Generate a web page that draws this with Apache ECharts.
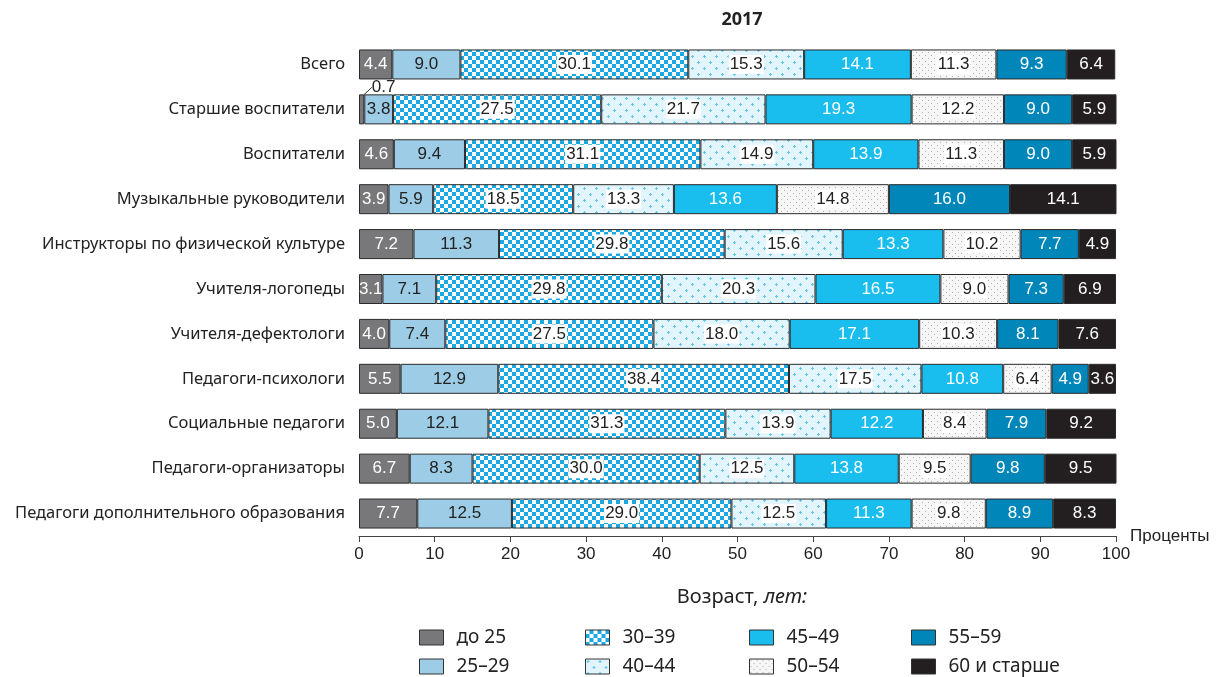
<!DOCTYPE html>
<html>
<head>
<meta charset="utf-8">
<script src="https://cdn.jsdelivr.net/npm/echarts@6/dist/echarts.min.js"></script>
<style>
  html, body { margin: 0; padding: 0; background: #fff; }
  #chart { width: 1216px; height: 677px; }
</style>
</head>
<body>
<div id="chart"></div>
<script>
let categories = ['Всего', 'Старшие воспитатели', 'Воспитатели', 'Музыкальные руководители',
    'Инструкторы по физической культуре', 'Учителя-логопеды', 'Учителя-дефектологи',
    'Педагоги-психологи', 'Социальные педагоги', 'Педагоги-организаторы',
    'Педагоги дополнительного образования'];
let ageNames = ['до 25', '25–29', '30–39', '40–44', '45–49', '50–54', '55–59', '60 и старше'];
let under25 = [4.4, 0.7, 4.6, 3.9, 7.2, 3.1, 4.0, 5.5, 5.0, 6.7, 7.7];
let age25_29 = [9.0, 3.8, 9.4, 5.9, 11.3, 7.1, 7.4, 12.9, 12.1, 8.3, 12.5];
let age30_39 = [30.1, 27.5, 31.1, 18.5, 29.8, 29.8, 27.5, 38.4, 31.3, 30.0, 29.0];
let age40_44 = [15.3, 21.7, 14.9, 13.3, 15.6, 20.3, 18.0, 17.5, 13.9, 12.5, 12.5];
let age45_49 = [14.1, 19.3, 13.9, 13.6, 13.3, 16.5, 17.1, 10.8, 12.2, 13.8, 11.3];
let age50_54 = [11.3, 12.2, 11.3, 14.8, 10.2, 9.0, 10.3, 6.4, 8.4, 9.5, 9.8];
let age55_59 = [9.3, 9.0, 9.0, 16.0, 7.7, 7.3, 8.1, 4.9, 7.9, 9.8, 8.9];
let over60 = [6.4, 5.9, 5.9, 14.1, 4.9, 6.9, 7.6, 3.6, 9.2, 9.5, 8.3];
let xTicks = [0, 10, 20, 30, 40, 50, 60, 70, 80, 90, 100];

let numFont = '"Liberation Sans Narrow", "Liberation Sans", sans-serif';
let textFont = '"Noto Sans", "DejaVu Sans", sans-serif';

// patterns
function makeCanvas(w, h, draw) {
    let c = document.createElement('canvas');
    c.width = w; c.height = h;
    draw(c.getContext('2d'));
    return c;
}
let checker = makeCanvas(8, 8, function (ctx) {
    ctx.fillStyle = '#1aa9e2';
    ctx.fillRect(0, 0, 8, 8);
    ctx.fillStyle = '#ffffff';
    ctx.fillRect(0, 0, 4, 4);
    ctx.fillRect(4, 4, 4, 4);
});
let plusDots = makeCanvas(12, 12, function (ctx) {
    ctx.fillStyle = '#e2f4fc';
    ctx.fillRect(0, 0, 12, 12);
    ctx.fillStyle = '#62c6ee';
    [[2, 2], [8, 8]].forEach(function (p) {
        ctx.fillRect(p[0] - 1, p[1], 3, 1);
        ctx.fillRect(p[0], p[1] - 1, 1, 3);
    });
});
let grayDots = makeCanvas(6, 6, function (ctx) {
    ctx.fillStyle = '#f6f6f6';
    ctx.fillRect(0, 0, 6, 6);
    ctx.fillStyle = '#b0b0b0';
    ctx.fillRect(1, 1, 1, 1);
    ctx.fillRect(4, 4, 1, 1);
});

let fills = ['#78787a', '#9dcde6', {image: checker, repeat: 'repeat'},
    {image: plusDots, repeat: 'repeat'}, '#19bdee', {image: grayDots, repeat: 'repeat'},
    '#0086b8', '#231f20'];
let labelColors = ['#fff', '#222', '#222', '#222', '#fff', '#222', '#fff', '#fff'];
let labelBg = [null, null, '#fff', '#fff', null, '#fff', null, null];
let values = [under25, age25_29, age30_39, age40_44, age45_49, age50_54, age55_59, over60];

let series = values.map(function (arr, i) {
    return {
        name: ageNames[i],
        type: 'bar',
        stack: 'total',
        barWidth: 30,
        itemStyle: {color: fills[i], borderColor: '#2a2a2a', borderWidth: 1},
        label: {
            show: true,
            position: 'inside',
            color: labelColors[i],
            fontFamily: numFont,
            fontSize: 17,
            backgroundColor: labelBg[i],
            padding: labelBg[i] ? [1, 1] : 0,
            formatter: function (p) { return p.value.toFixed(1); }
        },
        labelLine: {show: true, lineStyle: {color: '#333', width: 1}},
        labelLayout: function (p) {
            if (i === 0 && p.dataIndex === 1) {
                return {dx: 22, dy: -22};
            }
            return {};
        },
        emphasis: {disabled: true},
        data: arr.map(function (v, k) {
            if (i === 0 && k === 1) {
                return {value: v, label: {color: '#222'}, labelLine: {show: true}};
            }
            return v;
        })
    };
});

// legend: 4 columns x 2 rows, filled column by column
let legendLeft = [414, 580, 744, 906];
let legendTop = [623, 652];
let legends = ageNames.map(function (name, k) {
    return {
        left: legendLeft[Math.floor(k / 2)],
        top: legendTop[k % 2],
        itemWidth: 24,
        itemHeight: 15,
        icon: 'rect',
        selectedMode: false,
        data: [name],
        itemStyle: {borderColor: '#333', borderWidth: 1},
        textStyle: {fontFamily: textFont, fontSize: 19, color: '#222', padding: [0, 0, 0, 8]}
    };
});

let myChart = echarts.init(document.getElementById('chart'));
let option = {
    backgroundColor: '#fff',
    animation: false,
    title: [{
        text: '2017',
        left: 737,
        top: 6,
        textAlign: 'center',
        textStyle: {fontFamily: textFont, fontSize: 18, fontWeight: 'bold', color: '#222'}
    }, {
        text: '{a|Возраст, }{b|лет:}',
        left: 737,
        top: 582,
        textAlign: 'center',
        textStyle: {
            fontWeight: 'normal',
            rich: {
                a: {fontFamily: textFont, fontSize: 20, color: '#222', fontWeight: 'normal'},
                b: {fontFamily: textFont, fontSize: 20, color: '#222', fontWeight: 'normal', fontStyle: 'italic'}
            }
        }
    }],
    legend: legends,
    grid: {left: 359, right: 100, top: 42, height: 494, outerBoundsMode: 'none'},
    xAxis: {
        type: 'value',
        min: xTicks[0],
        max: xTicks[xTicks.length - 1],
        interval: 10,
        name: 'Проценты',
        nameLocation: 'end',
        nameGap: 14,
        nameTextStyle: {fontFamily: numFont, fontSize: 17, color: '#222'},
        axisLine: {show: true, lineStyle: {color: '#444'}},
        axisTick: {show: true, length: 6, lineStyle: {color: '#444'}},
        splitLine: {show: false},
        axisLabel: {fontFamily: numFont, fontSize: 17, color: '#222', margin: 10}
    },
    yAxis: {
        type: 'category',
        inverse: true,
        data: categories,
        axisLine: {show: false},
        axisTick: {show: false},
        axisLabel: {fontFamily: textFont, fontSize: 16.5, color: '#222', margin: 14}
    },
    series: series
};
myChart.setOption(option);
</script>
</body>
</html>
